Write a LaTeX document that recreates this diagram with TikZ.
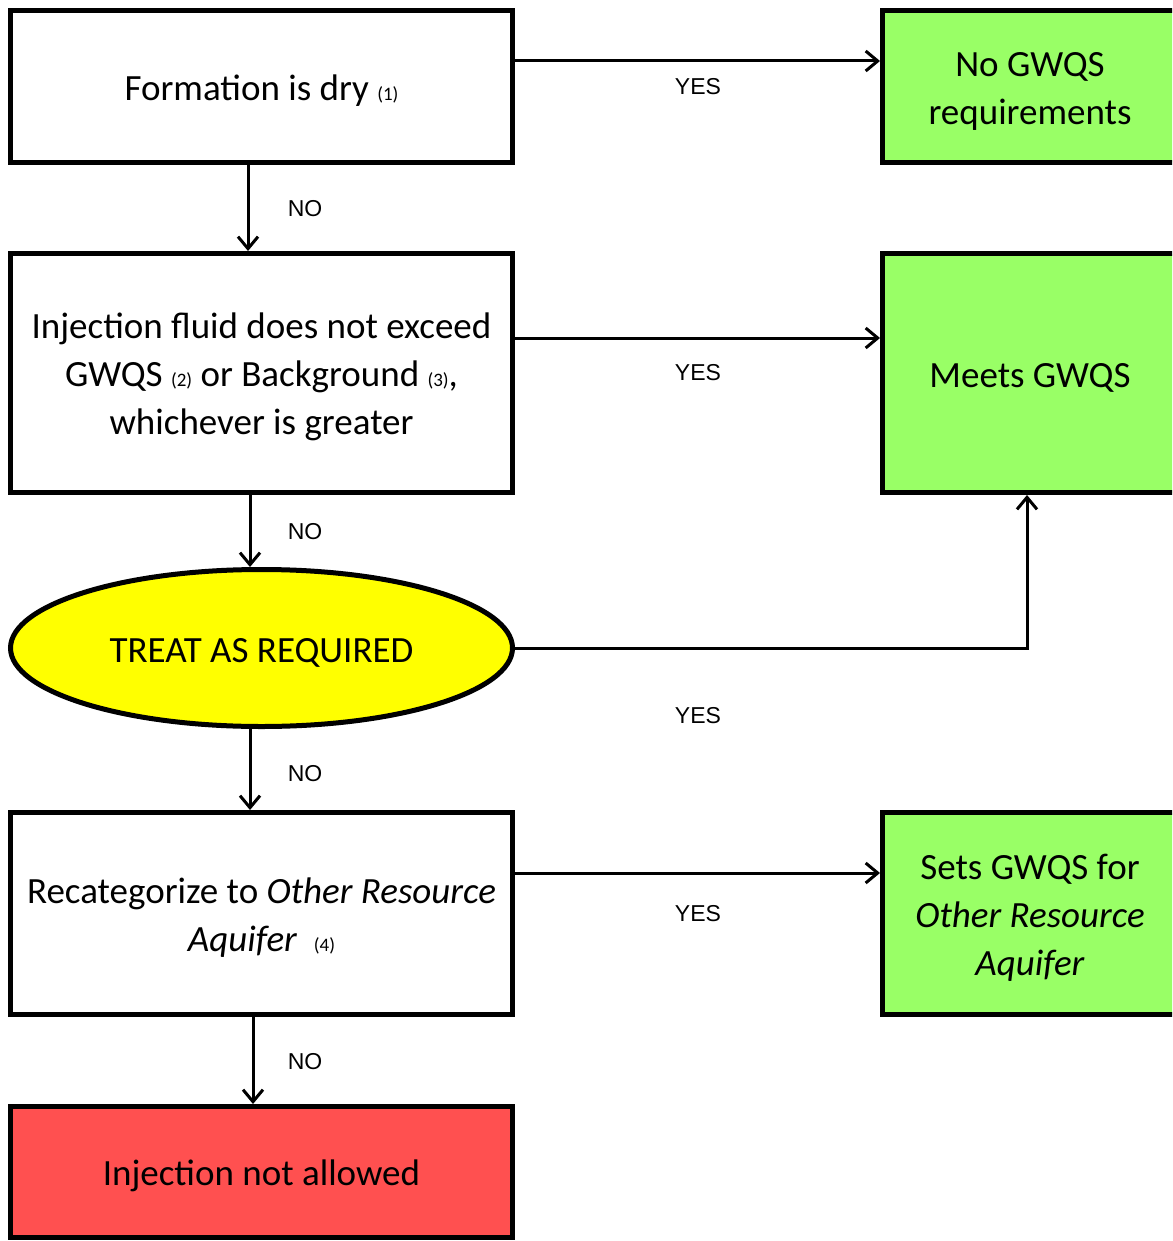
\documentclass[tikz,border=0pt]{standalone}
\usepackage{fontspec}
\setmainfont{Carlito}
\newfontfamily\labfont{Liberation Sans}
\usetikzlibrary{arrows.meta,shapes.geometric}
\definecolor{gbox}{HTML}{99FF66}
\definecolor{ybox}{HTML}{FFFF00}
\definecolor{rbox}{HTML}{FF5050}
\newcommand{\fn}[1]{{\fontsize{9.5}{11}\selectfont #1}}
\newcommand{\st}{\rule{0pt}{17pt}}
\begin{document}
\begin{tikzpicture}[x=0.5pt,y=-0.5pt,
  boxbase/.style={draw=black,line width=2.5pt,inner sep=0pt,align=center,
    font=\fontsize{18.5}{24}\selectfont},
  lbox/.style={boxbase,rectangle,minimum width=251pt},
  gbx/.style={boxbase,rectangle,fill=gbox,minimum width=147.5pt},
  conn/.style={line width=1.5pt,-{Straight Barb[length=6pt,width=10pt,line width=1.5pt]}},
  lab/.style={font=\labfont\fontsize{11.5}{13}\selectfont,inner sep=0pt}]
\useasboundingbox (0,0) rectangle (1172,1241);
\clip (0,0) rectangle (1172,1241);
\node[lbox,minimum height=76pt] (b1) at (261.5,86.5) {\st Formation is dry \fn{(1)}};
\node[lbox,minimum height=119.5pt] (b2) at (261.5,373) {\st Injection fluid does not exceed\\GWQS \fn{(2)} or Background \fn{(3)},\\whichever is greater};
\node[boxbase,ellipse,fill=ybox,minimum width=251pt,minimum height=78.5pt] (el) at (261.5,648) {\st TREAT AS REQUIRED};
\node[lbox,minimum height=101pt] (b4) at (261.5,913.5) {\st Recategorize to \textit{Other Resource}\\\textit{Aquifer} \ \fn{(4)}};
\node[lbox,fill=rbox,minimum height=65.5pt] (b5) at (261.5,1172) {\st Injection not allowed};
\node[gbx,minimum height=76pt] (g1) at (1030,86.5) {\st No GWQS\\requirements};
\node[gbx,minimum height=119.5pt] (g2) at (1030,373) {\st Meets GWQS};
\node[gbx,minimum height=101pt] (g3) at (1030,913.5) {\st Sets GWQS for\\\textit{Other Resource}\\\textit{Aquifer}};
% connectors
\draw[conn] ([yshift=12.75pt]b1.east) -- ([yshift=12.75pt]b1.east -| g1.west);
\draw[conn] ([xshift=-6.75pt]b1.south) -- ([xshift=-6.75pt]b1.south |- b2.north);
\draw[conn] ([yshift=17.5pt]b2.east) -- ([yshift=17.5pt]b2.east -| g2.west);
\draw[conn] ([xshift=-5.75pt]b2.south) -- ([xshift=-5.75pt]b2.south |- el.north);
\draw[conn] (el.east) -| ([xshift=-1.5pt]g2.south);
\draw[conn] ([xshift=-5.75pt]el.south) -- ([xshift=-5.75pt]el.south |- b4.north);
\draw[conn] ([yshift=20.25pt]b4.east) -- ([yshift=20.25pt]b4.east -| g3.west);
\draw[conn] ([xshift=-4.25pt]b4.south) -- ([xshift=-4.25pt]b4.south |- b5.north);
% labels
\node[lab] (y1) at (698,87) {YES};
\node[lab] (y2) at (698,373) {YES};
\node[lab] (y3) at (698,716) {YES};
\node[lab] (y4) at (698,914) {YES};
\node[lab] (n1) at (305,209) {NO};
\node[lab] (n2) at (305,532) {NO};
\node[lab] (n3) at (305,774) {NO};
\node[lab] (n4) at (305,1062) {NO};
\end{tikzpicture}
\end{document}
